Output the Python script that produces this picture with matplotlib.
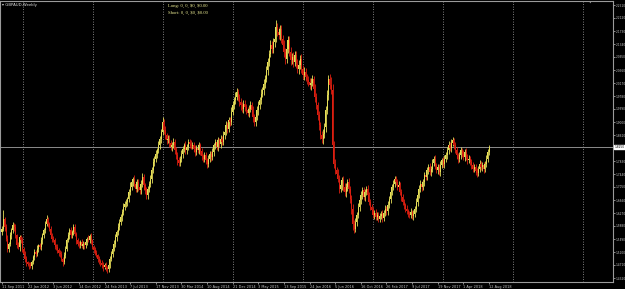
import matplotlib
matplotlib.use("Agg")
import matplotlib.pyplot as plt
import matplotlib.transforms as mtransforms

# ---------------- data ----------------
symbol_title = "GBPAUD,Weekly"
long_text = "Long: 0, 0, $0, $0.00"
short_text = "Short: 0, 0, $0, $0.00"

first_open = 1.570
closes = [
    1.580,1.610,1.585,1.550,1.520,1.535,1.560,1.575,1.590,1.585,1.560,1.530,1.525,1.555,1.545,1.520,1.505,1.490,1.480,1.475,
    1.470,1.468,1.480,1.495,1.510,1.505,1.520,1.530,1.525,1.545,1.560,1.575,1.595,1.610,1.595,1.580,1.560,1.550,1.545,1.530,
    1.525,1.515,1.508,1.505,1.490,1.480,1.500,1.520,1.545,1.560,1.575,1.560,1.570,1.585,1.565,1.545,1.535,1.530,1.540,1.528,
    1.535,1.530,1.540,1.550,1.545,1.558,1.545,1.525,1.515,1.508,1.500,1.490,1.482,1.478,1.470,1.465,1.472,1.462,1.458,1.470,
    1.490,1.505,1.520,1.535,1.555,1.570,1.585,1.600,1.615,1.630,1.645,1.655,1.660,1.668,1.690,1.705,1.720,1.728,1.715,1.700,
    1.720,1.705,1.695,1.715,1.735,1.710,1.695,1.680,1.700,1.715,1.728,1.755,1.780,1.790,1.805,1.815,1.830,1.848,1.870,1.900,
    1.875,1.860,1.845,1.850,1.838,1.825,1.830,1.840,1.815,1.800,1.785,1.778,1.790,1.805,1.820,1.830,1.815,1.825,1.840,1.835,
    1.828,1.832,1.820,1.810,1.822,1.815,1.830,1.812,1.798,1.790,1.800,1.785,1.775,1.790,1.805,1.795,1.810,1.830,1.840,1.825,
    1.845,1.835,1.850,1.840,1.860,1.870,1.890,1.880,1.905,1.900,1.930,1.950,1.965,1.975,1.990,1.975,1.960,1.950,1.940,1.955,
    1.945,1.935,1.928,1.940,1.950,1.935,1.915,1.900,1.915,1.935,1.950,1.965,1.985,1.995,2.015,2.030,2.055,2.080,2.105,2.130,
    2.120,2.140,2.150,2.185,2.170,2.160,2.178,2.150,2.130,2.110,2.088,2.120,2.145,2.110,2.085,2.095,2.080,2.100,2.075,2.058,
    2.070,2.090,2.060,2.040,2.050,2.035,2.025,2.020,2.010,2.018,2.028,2.000,1.975,1.950,1.920,1.890,1.862,1.848,1.865,1.885,
    1.935,1.980,2.030,2.010,1.995,1.830,1.775,1.755,1.745,1.730,1.700,1.710,1.725,1.705,1.690,1.705,1.720,1.700,1.670,1.640,
    1.595,1.580,1.600,1.620,1.645,1.665,1.680,1.695,1.675,1.690,1.700,1.680,1.660,1.645,1.635,1.620,1.628,1.615,1.622,1.610,
    1.618,1.625,1.612,1.628,1.640,1.632,1.650,1.668,1.690,1.705,1.715,1.728,1.720,1.705,1.712,1.690,1.675,1.660,1.650,1.640,
    1.632,1.625,1.622,1.630,1.618,1.625,1.640,1.660,1.680,1.700,1.715,1.705,1.720,1.740,1.735,1.755,1.765,1.750,1.760,1.778,
    1.790,1.770,1.755,1.765,1.750,1.770,1.785,1.775,1.790,1.800,1.815,1.830,1.822,1.838,1.845,1.830,1.815,1.800,1.790,1.800,
    1.815,1.805,1.795,1.810,1.795,1.785,1.790,1.780,1.770,1.760,1.765,1.752,1.748,1.760,1.775,1.765,1.770,1.760,1.775,1.790,
    1.810,1.825,
]

# wick lengths above/below the candle body, in units of 0.001
upper_wick = [
    8,26,6,10,12,5,9,7,11,6,8,5,10,7,6,9,5,8,7,4,
    6,9,5,7,8,6,10,5,7,9,6,8,7,12,6,5,9,7,8,6,
    5,8,6,7,9,5,10,8,6,11,7,9,6,10,8,5,7,9,6,8,
    7,5,9,6,10,7,8,5,6,9,7,5,8,6,7,10,5,9,6,8,
    7,9,6,10,8,7,11,9,8,10,12,7,9,8,10,14,9,8,12,7,
    10,9,8,12,11,9,8,10,9,7,12,10,11,9,10,8,12,11,10,15,
    9,12,8,10,11,7,9,12,8,10,9,11,7,10,9,8,12,9,10,8,
    11,9,7,10,8,12,9,8,10,7,9,11,8,10,9,7,12,8,10,9,
    11,8,10,9,12,10,13,9,11,10,14,12,10,15,13,10,9,12,11,10,
    12,9,11,10,13,9,12,10,11,14,12,10,13,11,15,12,14,13,12,16,
    14,12,15,20,13,16,12,14,11,15,13,18,14,12,16,11,15,13,12,14,
    15,12,13,11,14,12,10,13,11,15,12,10,14,12,11,13,10,12,14,11,
    13,15,12,14,25,18,12,14,10,13,11,12,10,13,11,12,10,11,9,12,
    15,10,12,9,11,10,13,9,11,10,8,12,9,10,8,11,9,10,8,9,
    10,8,11,9,10,8,12,9,11,10,12,9,10,8,11,9,10,8,9,7,
    10,8,9,11,7,10,9,11,8,10,12,9,10,11,8,10,9,12,8,10,
    9,11,8,10,9,12,8,10,11,9,10,12,9,11,10,8,9,10,8,11,
    9,8,10,9,11,8,10,9,8,10,9,8,10,9,11,8,10,9,8,10,
    9,6,
]
lower_wick = [
    10,8,12,7,9,11,6,10,8,12,7,9,6,11,8,10,7,9,12,8,
    10,7,9,6,8,10,7,9,6,8,10,7,9,6,11,8,7,9,6,10,
    8,7,9,10,6,12,7,9,8,6,10,7,9,8,6,10,7,8,9,6,
    8,10,7,9,6,8,10,7,9,8,6,10,7,9,8,11,7,9,10,8,
    9,7,10,8,9,11,8,10,9,12,8,10,9,11,8,10,9,12,10,11,
    9,12,10,11,9,13,10,12,11,9,10,12,9,11,10,12,9,11,10,9,
    12,10,11,9,12,10,11,9,12,10,13,9,11,10,12,9,10,11,9,12,
    10,9,11,12,10,9,11,10,12,9,10,11,12,9,10,11,9,12,10,9,
    11,10,12,9,10,11,9,12,10,11,9,10,12,11,10,12,11,13,10,12,
    11,12,10,13,11,12,14,11,12,10,13,11,12,10,13,12,11,14,12,11,
    13,12,14,11,13,12,15,13,12,14,13,12,14,13,15,12,14,13,12,11,
    13,12,14,11,13,12,11,13,12,14,11,13,15,12,14,13,12,11,13,12,
    14,12,13,11,12,30,14,12,13,11,12,10,13,11,12,14,11,13,12,16,
    20,12,10,11,9,12,10,11,9,12,10,11,9,10,12,9,11,10,9,11,
    10,9,11,10,9,11,10,9,12,10,9,11,10,9,11,10,12,9,10,11,
    9,10,11,9,10,12,9,10,11,9,10,12,9,11,10,9,12,10,11,9,
    10,11,9,12,10,11,9,10,12,9,11,10,9,12,10,11,9,10,12,9,
    11,10,9,12,10,11,9,10,12,11,9,10,12,11,9,10,11,12,10,9,
    10,8,
]

date_labels = ["11 Sep 2011", "22 Jan 2012", "3 Jun 2012", "14 Oct 2012", "24 Feb 2013",
               "7 Jul 2013", "17 Nov 2013", "30 Mar 2014", "10 Aug 2014", "21 Dec 2014",
               "3 May 2015", "13 Sep 2015", "24 Jan 2016", "5 Jun 2016", "16 Oct 2016",
               "26 Feb 2017", "9 Jul 2017", "19 Nov 2017", "1 Apr 2018", "12 Aug 2018"]
bars_per_label = 19

price_ticks = [2.2510, 2.2120, 2.1730, 2.1340, 2.0950, 2.0560, 2.0170, 1.9780, 1.9390,
               1.9000, 1.8610, 1.7830, 1.7440, 1.7050, 1.6660, 1.6270, 1.5880, 1.5490,
               1.5100, 1.4710, 1.4320]

# ---------------- derived OHLC ----------------
n = len(closes)
assert len(upper_wick) == n and len(lower_wick) == n
opens = [first_open] + closes[:-1]
highs = [max(o, c) + u / 1000 for o, c, u in zip(opens, closes, upper_wick)]
lows = [min(o, c) - l / 1000 for o, c, l in zip(opens, closes, lower_wick)]
idx = list(range(n))

# ---------------- figure ----------------
W, H = 625, 289
fig = plt.figure(figsize=(W / 100, H / 100), dpi=100, facecolor="black")
ax = fig.add_axes([0, (H - 282) / H, 613 / W, (282 - 1) / H])
ax.set_facecolor("black")

bull_col = "#E6DE58"
bear_col = "#DC1E10"

up = [i for i in idx if closes[i] >= opens[i]]
dn = [i for i in idx if closes[i] < opens[i]]

for group, col in ((up, bull_col), (dn, bear_col)):
    ax.vlines(group, [lows[i] for i in group], [highs[i] for i in group],
              colors=col, linewidth=0.6, zorder=3)
    ax.bar(group, [max(abs(closes[i] - opens[i]), 0.0015) for i in group], width=0.75,
           bottom=[min(opens[i], closes[i]) for i in group], color=col,
           linewidth=0, zorder=4)

ax.set_xlim(-1.48, 452.9)
ax.set_ylim(1.42, 2.263)

# vertical dotted grid (every ~52 bars)
g = 15.6
while g < 452:
    ax.axvline(g, color="#A8A8A8", linestyle=(0, (1, 2)), linewidth=0.6, zorder=1)
    g += 51.9

# current price line
last = closes[-1]
ax.axhline(last, color="#8C8C8C", linewidth=0.7, zorder=2)

for s in ax.spines.values():
    s.set_color("#9A9A9A")
    s.set_linewidth(0.8)

# y axis on right
ax.yaxis.tick_right()
ax.set_yticks(price_ticks)
ax.set_yticklabels([f"{v:.4f}" for v in price_ticks])
ax.tick_params(axis="y", colors="#C8C8C8", labelsize=2.1, length=1.2, width=0.5, pad=0.5)

# x axis labels
xt = [k * bars_per_label for k in range(len(date_labels))]
ax.set_xticks(xt)
ax.set_xticklabels(date_labels, ha="left")
ax.tick_params(axis="x", colors="#C8C8C8", labelsize=2.5, length=1.5, width=0.5, pad=0.5)

# current price tag
trans = mtransforms.blended_transform_factory(ax.transAxes, ax.transData)
ax.text(1.003, last, f"{last:.4f}", transform=trans, fontsize=2.1, color="black",
        va="center", ha="left", clip_on=False,
        bbox=dict(boxstyle="square,pad=0.12", fc="white", ec="white"))

# title and info texts
fig.text(2 / W, 1 - 5 / H, "\u25be " + symbol_title, fontsize=2.8, color="#E0E0E0",
         va="center", ha="left")
fig.text(168 / W, 1 - 6 / H, long_text, fontsize=3.4, color="#E8E890",
         family="Liberation Serif", va="center", ha="left", parse_math=False)
fig.text(168 / W, 1 - 13 / H, short_text, fontsize=3.4, color="#E8E890",
         family="Liberation Serif", va="center", ha="left", parse_math=False)

# chart shift marker
fig.text(590 / W, 1 - 2.5 / H, "\u25bc", fontsize=2.5, color="#9A9A9A",
         va="center", ha="center")

fig.savefig("out.png", dpi=100, facecolor="black")
